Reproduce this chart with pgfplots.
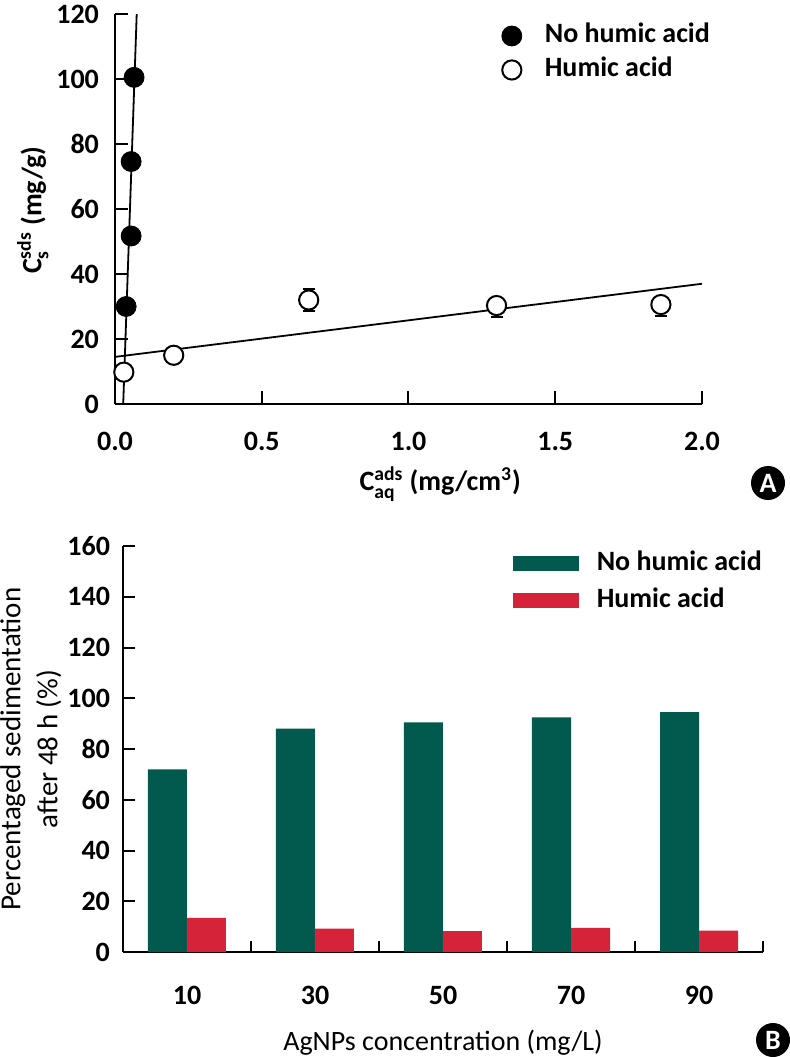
\documentclass[border=0pt]{standalone}
\usepackage{fontspec}
\setmainfont{Carlito}
\usepackage{amsmath}
\usepackage{pgfplots}
\pgfplotsset{compat=1.18}
\definecolor{dgreen}{RGB}{2,89,78}
\definecolor{hred}{RGB}{213,35,58}
\pgfplotsset{every axis/.append style={font=\fontsize{14}{16}\selectfont}}
\begin{document}
\begin{tikzpicture}
\useasboundingbox (0pt,0pt) rectangle (395pt,-528.5pt);
% ---------- Panel A ----------
\begin{axis}[
  at={(57.5pt,-202pt)}, anchor=south west,
  scale only axis, width=293.5pt, height=195pt,
  xmin=0, xmax=2, ymin=0, ymax=120,
  axis lines=left, axis line style={-, line width=1pt},
  tick align=inside, major tick length=6.5pt, tick style={line width=1pt, black},
  xtick={0,0.5,1,1.5,2}, xticklabels={0.0,0.5,1.0,1.5,2.0},
  ytick={0,20,40,60,80,100,120},
  /pgf/number format/assume math mode=true,
  ticklabel style={font=\fontsize{14}{16}\selectfont\bfseries},
  xticklabel style={yshift=-10.5pt},
  yticklabel style={xshift=-4.5pt},
  xlabel={\bfseries C$^{\text{ads}}_{\text{aq}}$ (mg/cm$^{\text{3}}$)},
  xlabel style={at={(axis description cs:0.554,-0.205)}, anchor=center},
  ylabel={\bfseries C$^{\text{sds}}_{\text{s}}$ (mg/g)},
  ylabel style={at={(axis description cs:-0.14,0.497)}, anchor=center},
  legend style={draw=none, fill=none, inner sep=0pt, outer sep=0pt,
    at={(rel axis cs:0.659,0.977)}, anchor=north west, row sep=4pt,
    font=\fontsize{14}{16}\selectfont\bfseries,
    nodes={inner sep=0pt, text height=10pt, text depth=3pt}},
  legend cell align=left,
  legend image code/.code={\path[draw=none, fill=none] (0pt,0pt) -- (21.5pt,0pt);
    \draw[#1] plot coordinates {(5pt,0pt)};},
]
% error bars drawn first so the open circles cover their middle part
\addplot[only marks, mark=none, forget plot,
  error bars/.cd, y dir=both, y explicit,
  error bar style={draw=black, line width=1pt},
  error mark options={rotate=90, mark size=3pt, line width=1pt, black}]
  coordinates {
  (0.66,32) +- (0,3.5)
  (1.3,30.3) += (0,2) -= (0,3.4)
  (1.86,30.6) += (0,2) -= (0,3.4)};
\addplot[black, line width=0.9pt, forget plot] coordinates {(0.028,0) (0.074,120)};
\addplot[black, line width=0.9pt, forget plot] coordinates {(0,14.5) (2,37)};
\addplot[only marks, mark=*, mark size=5pt, black] coordinates {
  (0.038,30) (0.055,51.7) (0.055,74.6) (0.065,100.5)};
\addlegendentry{No humic acid}
\addplot[only marks, mark=*, mark size=4.8pt, draw=black, fill=white, line width=1pt]
  coordinates {(0.03,9.8) (0.2,15) (0.66,32) (1.3,30.3) (1.86,30.6)};
\addlegendentry{Humic acid}
\end{axis}
\node[circle, fill=black, text=white, minimum size=17pt, inner sep=0pt,
  font=\fontsize{14}{16}\selectfont\bfseries] at (384pt,-241.5pt) {A};
% ---------- Panel B ----------
\begin{axis}[
  at={(61.5pt,-476pt)}, anchor=south west,
  scale only axis, width=320pt, height=203pt,
  xmin=-0.5, xmax=4.5, ymin=0, ymax=160,
  ybar=0pt, bar width=19.5pt,
  axis lines=left, axis line style={-, line width=1pt},
  tick align=inside, major tick length=6pt, minor tick length=5.5pt,
  tick style={line width=1pt, black},
  xtick={0,1,2,3,4}, xticklabels={10,30,50,70,90},
  minor xtick={0.5,1.5,2.5,3.5,4.5},
  every major x tick/.append style={draw=none},
  ytick={0,20,40,60,80,100,120,140,160},
  /pgf/number format/assume math mode=true,
  ticklabel style={font=\fontsize{14}{16}\selectfont\bfseries},
  xticklabel style={yshift=-13.5pt},
  yticklabel style={xshift=-3pt},
  xlabel={AgNPs concentration (mg/L)},
  xlabel style={at={(axis description cs:0.5,-0.224)}, anchor=center},
  ylabel={\fontsize{14.5}{18.5}\selectfont\begin{tabular}{@{}c@{}}Percentaged sedimentation\\after 48 h (\%)\end{tabular}},
  ylabel style={at={(axis description cs:-0.143,0.5)}, anchor=center},
  legend style={draw=none, fill=none, inner sep=0pt, outer sep=0pt,
    at={(rel axis cs:0.609,0.988)}, anchor=north west, row sep=5.5pt,
    font=\fontsize{14}{16}\selectfont\bfseries,
    nodes={inner sep=0pt, text height=10pt, text depth=3pt}},
  legend cell align=left,
  legend image code/.code={\path[draw=none, fill=none] (0pt,0pt) -- (42pt,0pt);
    \fill[#1] (0pt,-3.75pt) rectangle (33pt,3.75pt);},
]
\addplot[fill=dgreen, draw=none] coordinates {(0,72) (1,88) (2,90.5) (3,92.5) (4,94.5)};
\addlegendentry{No humic acid}
\addplot[fill=hred, draw=none] coordinates {(0,13.5) (1,9.2) (2,8.2) (3,9.5) (4,8.4)};
\addlegendentry{Humic acid}
\end{axis}
\node[circle, fill=black, text=white, minimum size=17pt, inner sep=0pt,
  font=\fontsize{14}{16}\selectfont\bfseries] at (386.5pt,-520pt) {B};
\end{tikzpicture}
\end{document}
